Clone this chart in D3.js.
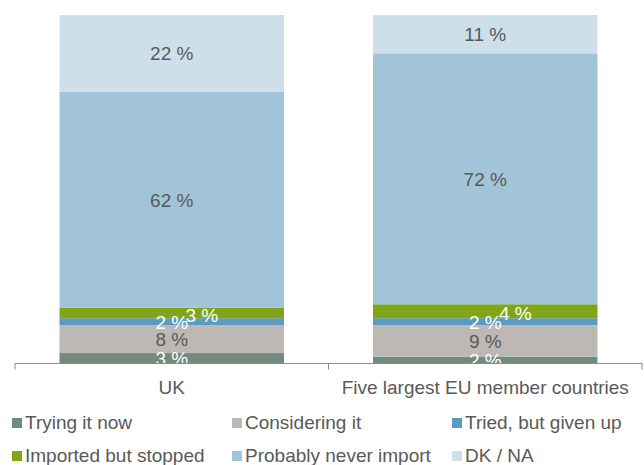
<!DOCTYPE html>
<html lang="en">
<head>
    <meta charset="utf-8">
    <title>Import attitudes</title>
    <script type="text/javascript" src="https://d3js.org/d3.v7.min.js"></script>
    <style type="text/css">
        body { margin: 0; overflow: hidden; background: #fff; }
        svg { display: block; }
        text { font-family: "Liberation Sans", Arial, sans-serif; }
    </style>
</head>
<body>
    <script type="text/javascript">
        // Chart data
        var categories = ["UK", "Five largest EU member countries"];
        var seriesNames = ["Trying it now", "Considering it", "Tried, but given up",
                           "Imported but stopped", "Probably never import", "DK / NA"];
        var tryingNow   = [3, 2];
        var considering = [8, 9];
        var triedGivenUp = [2, 2];
        var importedStopped = [3, 4];
        var neverImport = [62, 72];
        var dkNa        = [22, 11];

        var seriesValues = [tryingNow, considering, triedGivenUp, importedStopped, neverImport, dkNa];
        var colors = ["#728b7e", "#bdb8b4", "#5b9bc0", "#80a617", "#a2c4d8", "#cde0e9"];
        var labelColors = ["#fff", "#595959", "#fff", "#fff", "#595959", "#595959"];
        // small nudges Excel used so overlapping labels don't collide
        var labelShift = [[0, 0], [0, 0], [0, 0], [30, 2], [0, 0], [0, 0]];

        var width = 644, height = 465;

        // Build rows for d3.stack
        var rows = categories.map(function(c, i) {
            var r = { cat: c };
            seriesNames.forEach(function(s, j) { r[s] = seriesValues[j][i]; });
            return r;
        });

        var stacked = d3.stack().keys(seriesNames)(rows);

        var x = d3.scaleBand()
            .domain(categories)
            .range([15, 642])
            .padding(0);
        var barW = x.bandwidth() * 0.716;

        var y = d3.scaleLinear()
            .domain([0, 100])
            .range([363.5, 15]);

        var svg = d3.select("body")
            .append("svg")
            .attr("width", width)
            .attr("height", height);

        svg.append("defs").append("clipPath")
            .attr("id", "plotclip")
            .append("rect")
            .attr("x", 0).attr("y", 0)
            .attr("width", width).attr("height", y(0));

        var layer = svg.selectAll(".layer")
            .data(stacked)
            .enter()
            .append("g")
            .attr("class", "layer")
            .attr("fill", function(d, i) { return colors[i]; });

        layer.selectAll("rect")
            .data(function(d) { return d; })
            .enter()
            .append("rect")
            .attr("x", function(d) { return x(d.data.cat) + (x.bandwidth() - barW) / 2; })
            .attr("y", function(d) { return y(d[1]); })
            .attr("width", barW)
            .attr("height", function(d) { return y(d[0]) - y(d[1]); });

        // Value labels
        var labels = svg.append("g").attr("clip-path", "url(#plotclip)");
        stacked.forEach(function(s, i) {
            labels.selectAll(".lbl" + i)
                .data(s)
                .enter()
                .append("text")
                .attr("x", function(d) { return x(d.data.cat) + x.bandwidth() / 2 + labelShift[i][0]; })
                .attr("y", function(d) { return (y(d[0]) + y(d[1])) / 2 + labelShift[i][1]; })
                .attr("dy", "0.36em")
                .attr("text-anchor", "middle")
                .attr("font-size", 19)
                .attr("fill", labelColors[i])
                .text(function(d) { return (d[1] - d[0]) + " %"; });
        });

        // Category axis (ticks between categories, Excel style)
        var axis = svg.append("g");
        axis.append("line")
            .attr("x1", x.range()[0]).attr("x2", x.range()[1])
            .attr("y1", y(0)).attr("y2", y(0))
            .attr("stroke", "#878b8f").attr("stroke-width", 1);
        var tickXs = categories.map(function(c) { return x(c); }).concat([x.range()[1]]);
        axis.selectAll(".tk")
            .data(tickXs)
            .enter()
            .append("line")
            .attr("x1", function(d) { return d; }).attr("x2", function(d) { return d; })
            .attr("y1", y(0)).attr("y2", y(0) + 6)
            .attr("stroke", "#878b8f").attr("stroke-width", 1);
        axis.selectAll(".cat")
            .data(categories)
            .enter()
            .append("text")
            .attr("x", function(d) { return x(d) + x.bandwidth() / 2; })
            .attr("y", 394)
            .attr("text-anchor", "middle")
            .attr("font-size", 19)
            .attr("fill", "#595959")
            .text(function(d) { return d; });

        // Legend, 3 columns x 2 rows
        var legend = svg.append("g");
        var item = legend.selectAll(".leg")
            .data(seriesNames)
            .enter()
            .append("g")
            .attr("transform", function(d, i) {
                return "translate(" + (12 + (i % 3) * 220) + "," + (429 + Math.floor(i / 3) * 33) + ")";
            });
        item.append("rect")
            .attr("x", 0).attr("y", -11)
            .attr("width", 10).attr("height", 10)
            .attr("fill", function(d, i) { return colors[i]; });
        item.append("text")
            .attr("x", 13).attr("y", 0)
            .attr("font-size", 19)
            .attr("fill", "#595959")
            .text(function(d) { return d; });
    </script>
</body>
</html>
